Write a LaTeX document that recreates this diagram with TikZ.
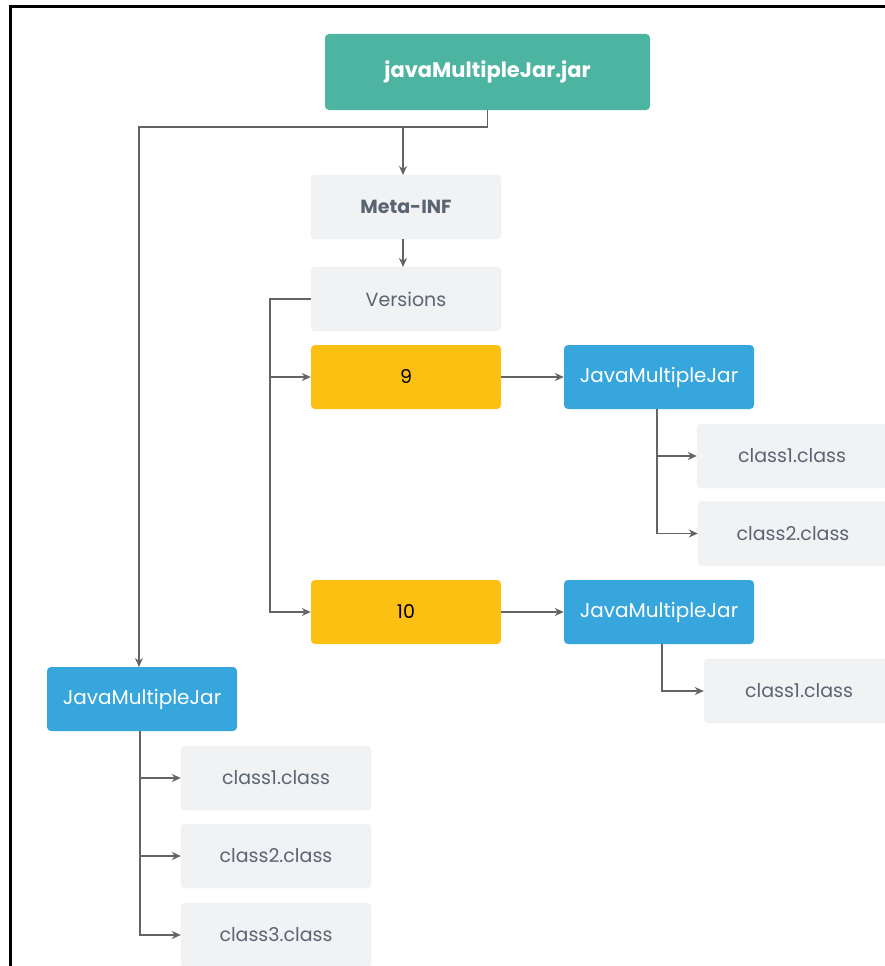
\documentclass[tikz,border=0pt]{standalone}
\usepackage{fontspec}
\setmainfont{Poppins}
\usetikzlibrary{arrows.meta}
\definecolor{jarteal}{RGB}{77,180,162}
\definecolor{verbox}{RGB}{252,192,19}
\definecolor{jmblue}{RGB}{54,166,221}
\definecolor{filebox}{RGB}{241,242,244}
\definecolor{filetext}{RGB}{90,100,115}
\definecolor{linkgray}{RGB}{100,100,100}
\tikzset{
  box/.style={rounded corners=4pt, minimum width=190pt, minimum height=64pt,
    inner sep=0pt, font=\fontsize{19}{21}\selectfont},
  jarbox/.style={box, fill=jarteal, text=white, minimum width=325pt,
    minimum height=76pt, font=\fontsize{21}{23}\selectfont\bfseries},
  filenode/.style={box, fill=filebox, draw=gray!12, text=filetext},
  verbox/.style={box, fill=verbox, text=black},
  pkgbox/.style={box, fill=jmblue, text=white, font=\fontsize{20}{22}\selectfont},
  link/.style={draw=linkgray, line width=1.6pt,
    -{Stealth[length=9pt,width=8pt]}},
  plainlink/.style={draw=linkgray, line width=1.6pt}
}
\begin{document}
\begin{tikzpicture}[x=1pt,y=-1pt]
 \useasboundingbox (0,0) rectangle (885,966);
 \clip (0,0) rectangle (885,966);

 % frame
 \draw[line width=3pt] (10,966) -- (10,7) -- (890,7);

 % nodes
 \node[jarbox] (jar) at (487.5,72) {javaMultipleJar.jar};
 \node[filenode, font=\fontsize{19}{21}\selectfont\bfseries] (meta) at (406,207) {Meta-INF};
 \node[filenode] (ver) at (406,299) {Versions};
 \node[verbox] (v9) at (406,377) {9};
 \node[verbox] (v10) at (406,612) {10};
 \node[pkgbox] (jmA) at (659,377) {JavaMultipleJar};
 \node[pkgbox] (jmB) at (659,612) {JavaMultipleJar};
 \node[pkgbox] (jmC) at (142,699) {JavaMultipleJar};
 \node[filenode] (aOne) at (792,456) {class1.class};
 \node[filenode] (aTwo) at (793,533.5) {class2.class};
 \node[filenode] (bOne) at (799,691) {class1.class};
 \node[filenode] (cOne) at (276,778) {class1.class};
 \node[filenode] (cTwo) at (276,856) {class2.class};
 \node[filenode] (cThree) at (276,935) {class3.class};

 % helper points
 \coordinate (topbus) at (487.5,127);
 \coordinate (verbus) at (270,299);
 \coordinate (aBus) at (657,409);
 \coordinate (bBus) at (662,644);
 \coordinate (cBus) at (140,731);

 % connectors
 \draw[plainlink] (jar.south) -- (topbus);
 \draw[link] (topbus) -| (139,667);
 \draw[link] (403,127) -- (403,175);
 \draw[link] (403,239) -- (403,267);
 \draw[link] (ver.west) -- (verbus) |- (v10.west);
 \draw[link] (verbus |- v9.west) -- (v9.west);
 \draw[link] (v9.east) -- (jmA.west);
 \draw[link] (v10.east) -- (jmB.west);
 \draw[link] (aBus) |- (aTwo.west);
 \draw[link] (aBus |- aOne.west) -- (aOne.west);
 \draw[link] (bBus) |- (bOne.west);
 \draw[link] (cBus) |- (cThree.west);
 \draw[link] (cBus |- cOne.west) -- (cOne.west);
 \draw[link] (cBus |- cTwo.west) -- (cTwo.west);

\end{tikzpicture}
\end{document}
